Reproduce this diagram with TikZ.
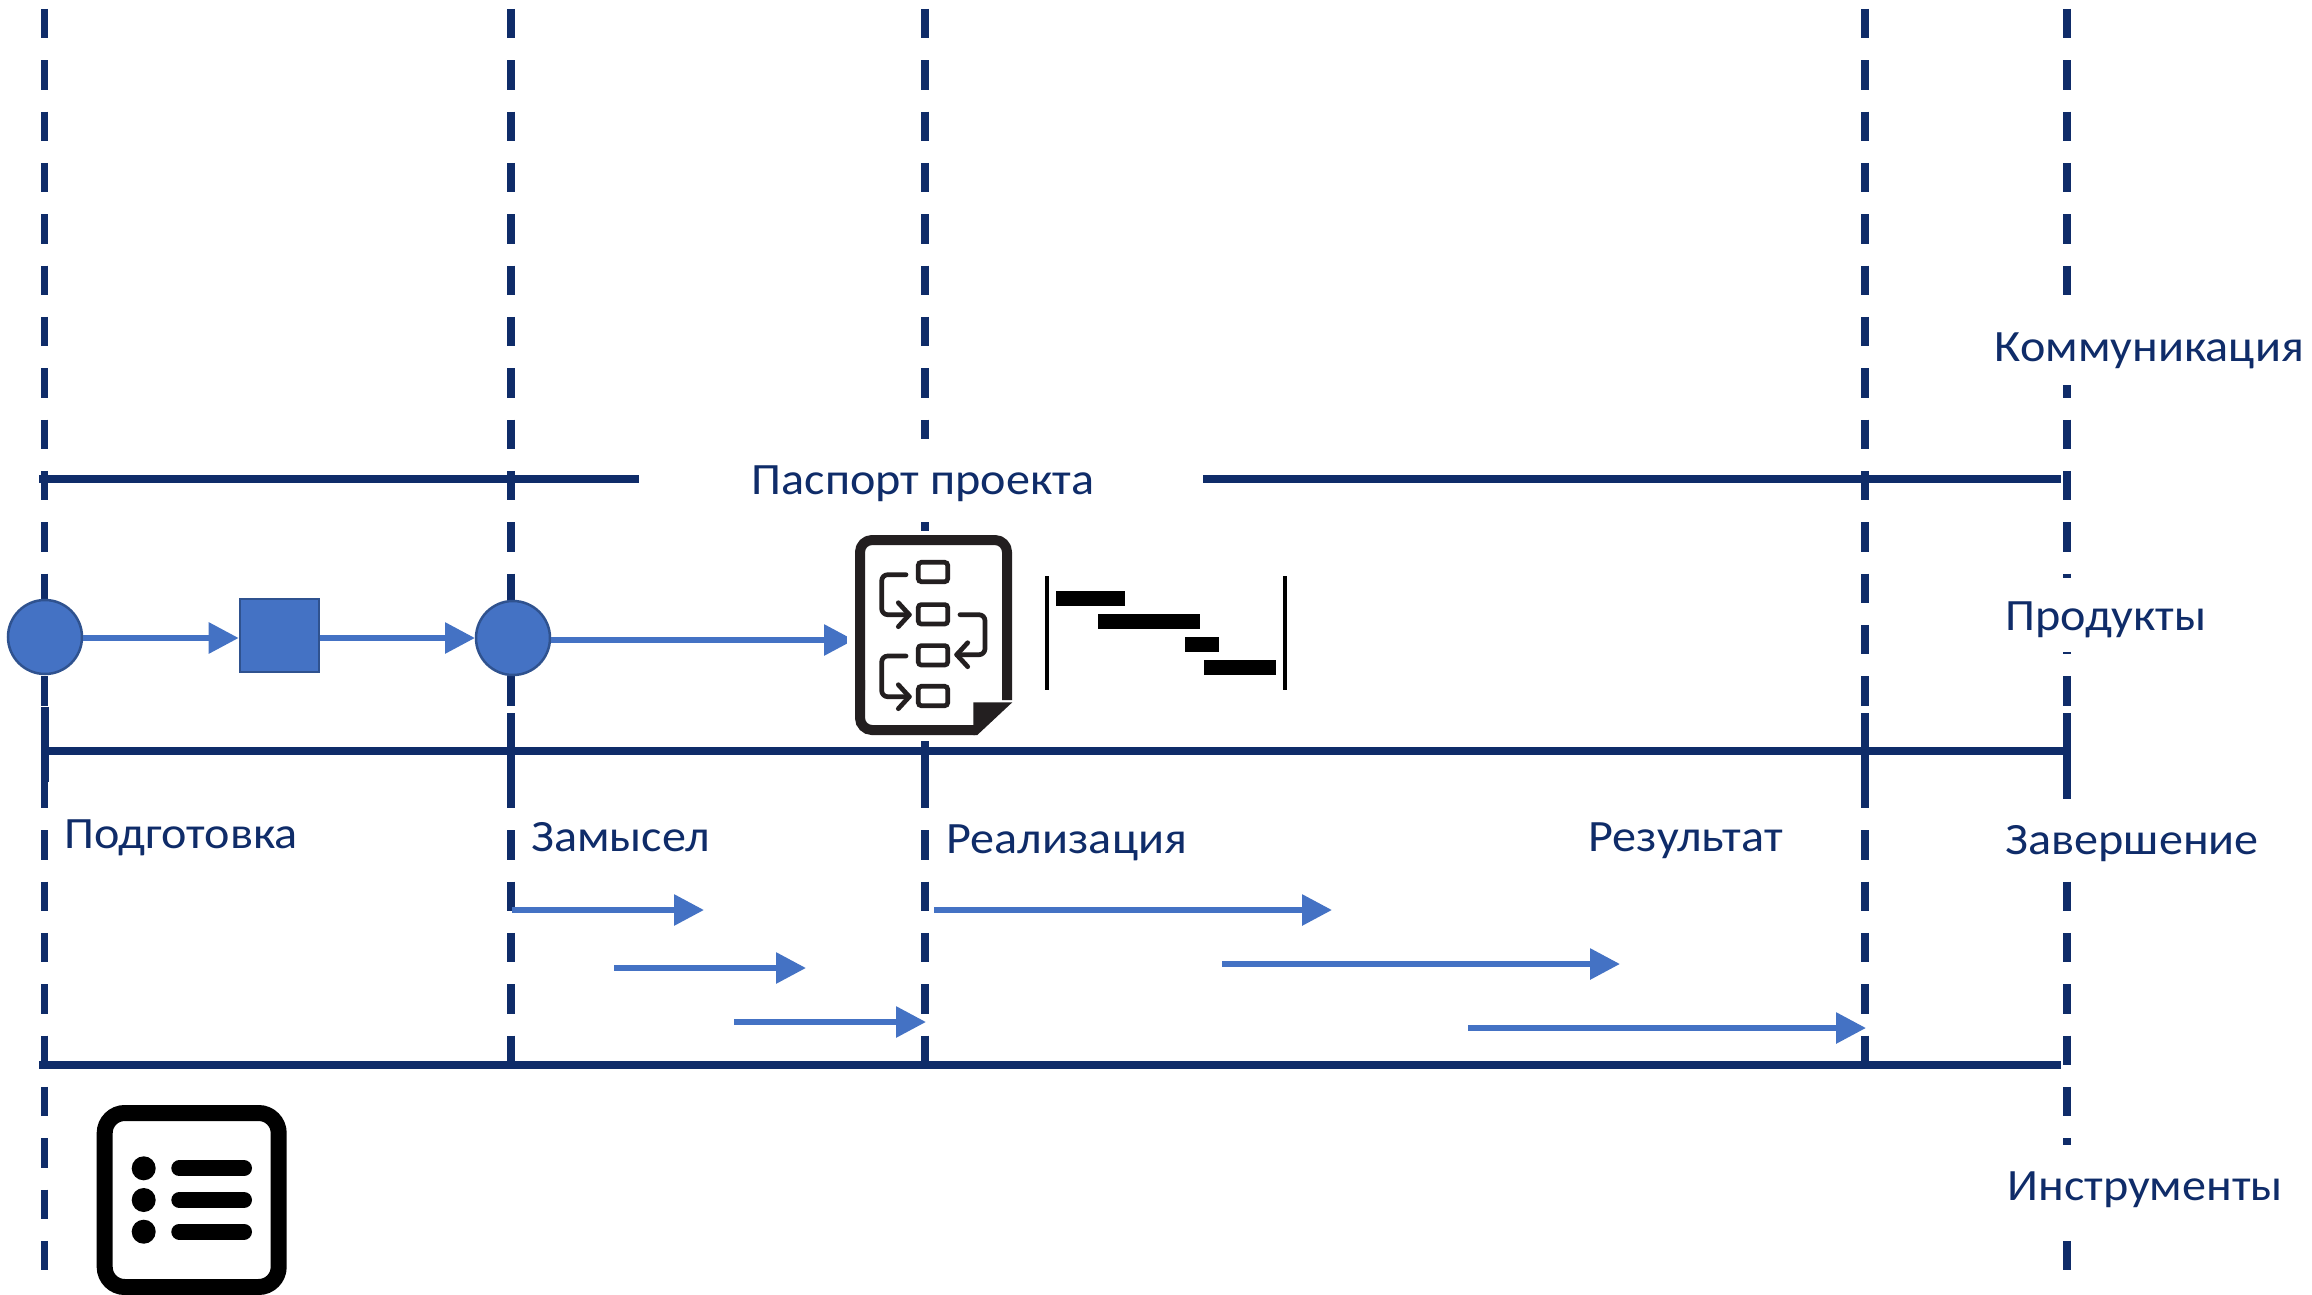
\documentclass[tikz,border=0pt]{standalone}
\usepackage{fontspec}
\setmainfont[FakeStretch=1.075]{Carlito}
\usetikzlibrary{arrows.meta}
\definecolor{navy}{HTML}{0F2C69}
\definecolor{flow}{HTML}{4472C4}
\definecolor{flowedge}{HTML}{2F528F}
\definecolor{ink}{HTML}{231F20}
\tikzset{
  x=1pt,y=-1pt,
  dashline/.style={draw=navy,line width=7.5pt,dash pattern=on 29.33pt off 22pt},
  tick/.style={draw=navy,line width=8pt},
  hline/.style={draw=navy,line width=8pt},
  mask/.style={fill=white,draw=none},
  flowarrow/.style={draw=flow,line width=6pt,-{Triangle[length=30pt,width=30pt]}},
  circ/.style={circle,draw=flowedge,line width=2.5pt,fill=flow,minimum size=74pt,inner sep=0pt,outer sep=1pt},
  sq/.style={rectangle,draw=flowedge,line width=2pt,fill=flow,minimum width=79pt,minimum height=73pt,inner sep=0pt,outer sep=1pt},
  lbl/.style={anchor=base west,inner sep=0pt,text=navy,font=\fontsize{44.8}{50}\selectfont},
  docline/.style={draw=ink,line width=4.7pt,rounded corners=6pt,line cap=round,line join=round},
  docbox/.style={draw=ink,line width=4.7pt,rounded corners=3pt},
  head/.style={draw=ink,line width=4.7pt,line cap=round,line join=round},
  gantt/.style={fill=black,draw=none},
  listbar/.style={draw=black,line width=16pt,line cap=round}
}
\begin{document}
\begin{tikzpicture}
\useasboundingbox (0,0) rectangle (2312,1295);
\fill[white] (0,0) rectangle (2312,1295);
% vertical dashed phase lines
\coordinate (va0) at (44.7,9); \coordinate (vb0) at (44.7,1271);
\coordinate (va1) at (511,9); \coordinate (vb1) at (511,1065);
\coordinate (va2) at (925,9); \coordinate (vb2) at (925,1065);
\coordinate (va3) at (1865,9); \coordinate (vb3) at (1865,1065);
\coordinate (va4) at (2067,9); \coordinate (vb4) at (2067,1271);
\foreach \i in {0,...,4} {\draw[dashline] (va\i) -- (vb\i);}
% thick ticks on main line
\coordinate (ta0) at (45,707); \coordinate (tb0) at (45,782);
\coordinate (ta1) at (511,713); \coordinate (tb1) at (511,788);
\coordinate (ta2) at (925,741); \coordinate (tb2) at (925,788);
\coordinate (ta3) at (1865,713); \coordinate (tb3) at (1865,788);
\coordinate (ta4) at (2067,713); \coordinate (tb4) at (2067,788);
\foreach \i in {0,...,4} {\draw[tick] (ta\i) -- (tb\i);}
% white masks behind the labels
\fill[mask] (2000,305) rectangle (2312,385);
\fill[mask] (2000,578) rectangle (2240,652);
\fill[mask] (1990,798.7) rectangle (2312,881);
\fill[mask] (2000,1145) rectangle (2312,1240);
\fill[mask] (639,438.7) rectangle (1203,522);
% horizontal lines
\coordinate (pl) at (39,479); \coordinate (pm) at (639,479);
\coordinate (pn) at (1203,479); \coordinate (pr) at (2061,479);
\draw[hline] (pl) -- (pm);
\draw[hline] (pn) -- (pr);
\coordinate (ml) at (45,751); \coordinate (mr) at (2067,751);
\draw[hline] (ml) -- (mr);
\coordinate (bl) at (39,1065); \coordinate (br) at (2061,1065);
\draw[hline] (bl) -- (br);
% labels
\node[lbl] (tcomm) at (1994.7,361.7) {Коммуникация};
\node[lbl] (tprod) at (2005.5,630.7) {Продукты};
\node[lbl] (tpass) at (751.5,494) {Паспорт проекта};
\node[lbl] (tprep) at (64.5,848) {Подготовка};
\node[lbl] (tidea) at (531,851.7) {Замысел};
\node[lbl] (timpl) at (946.5,853) {Реализация};
\node[lbl] (tres) at (1588.5,851.7) {Результат};
\node[lbl] (tend) at (2005.5,854) {Завершение};
\node[lbl] (ttool) at (2007.5,1200.7) {Инструменты};
% flow row
\node[circ] (c1) at (45,637) {};
\node[sq] (s1) at (279.2,635.5) {};
\node[circ] (c2) at (513,638) {};
\draw[flowarrow] ([yshift=-1pt]c1.east) -- ([yshift=-2.5pt]s1.west);
\draw[flowarrow] ([yshift=-2.5pt]s1.east) -- (c2.west);
\coordinate (docin) at (854,640);
\draw[flowarrow] ([yshift=-2pt]c2.east) -- (docin);
% lower arrows
\coordinate (a1s) at (512,910); \coordinate (a1e) at (704,910);
\coordinate (a2s) at (614,968); \coordinate (a2e) at (806,968);
\coordinate (a3s) at (734,1022); \coordinate (a3e) at (926,1022);
\coordinate (a4s) at (934,910); \coordinate (a4e) at (1332,910);
\coordinate (a5s) at (1222,964); \coordinate (a5e) at (1620,964);
\coordinate (a6s) at (1468,1028); \coordinate (a6e) at (1866,1028);
\foreach \i in {1,...,6} {\draw[flowarrow] (a\i s) -- (a\i e);}
% document icon
\fill[white] (847,530.7) rectangle (1020,741);
\draw[draw=ink,line width=10pt,rounded corners=12pt,line join=round]
  (860,690) -- (860,540) -- (1007,540) -- (1007,700);
\draw[draw=ink,line width=10pt,rounded corners=12pt]
  (860,680) -- (860,730) -- (975,730);
\fill[ink] (973.3,702.3) -- (1012.3,702.3) -- (977.3,735) -- (973.3,735) -- cycle;
\foreach \ya/\yb in {562.3/581.7,604.6/624,645.6/665,686.3/705.7} {
  \draw[docbox] (918.3,\ya) rectangle (947.7,\yb);
}
\draw[docline] (906,574.7) -- (881.7,574.7) -- (881.7,614.7) -- (909.3,614.7);
\draw[head] (898.3,602.7) -- (909.3,614.7) -- (898.3,626.7);
\draw[docline] (906,656) -- (881.7,656) -- (881.7,696.7) -- (909.3,696.7);
\draw[head] (898.3,684.7) -- (909.3,696.7) -- (898.3,708.7);
\draw[docline] (960,614.7) -- (985,614.7) -- (985,654.7) -- (956.7,654.7);
\draw[head] (967.7,642.7) -- (956.7,654.7) -- (967.7,666.7);
% gantt icon
\fill[gantt] (1045,575.7) rectangle (1049,690.3);
\fill[gantt] (1283.3,575.7) rectangle (1287,690.3);
\fill[gantt] (1056,590.7) rectangle (1124.7,606.3);
\fill[gantt] (1098,613.7) rectangle (1200,629.3);
\fill[gantt] (1184.7,636.7) rectangle (1219,652.3);
\fill[gantt] (1203.7,659.7) rectangle (1275.7,675);
% list icon
\draw[draw=black,line width=16pt,rounded corners=20pt] (104.7,1113) rectangle (278.7,1287);
\foreach \y in {1168.3,1200,1231.7} {
  \fill[black] (143.7,\y) circle[radius=12pt];
  \draw[listbar] (179.3,\y) -- (244,\y);
}
\end{tikzpicture}
\end{document}
